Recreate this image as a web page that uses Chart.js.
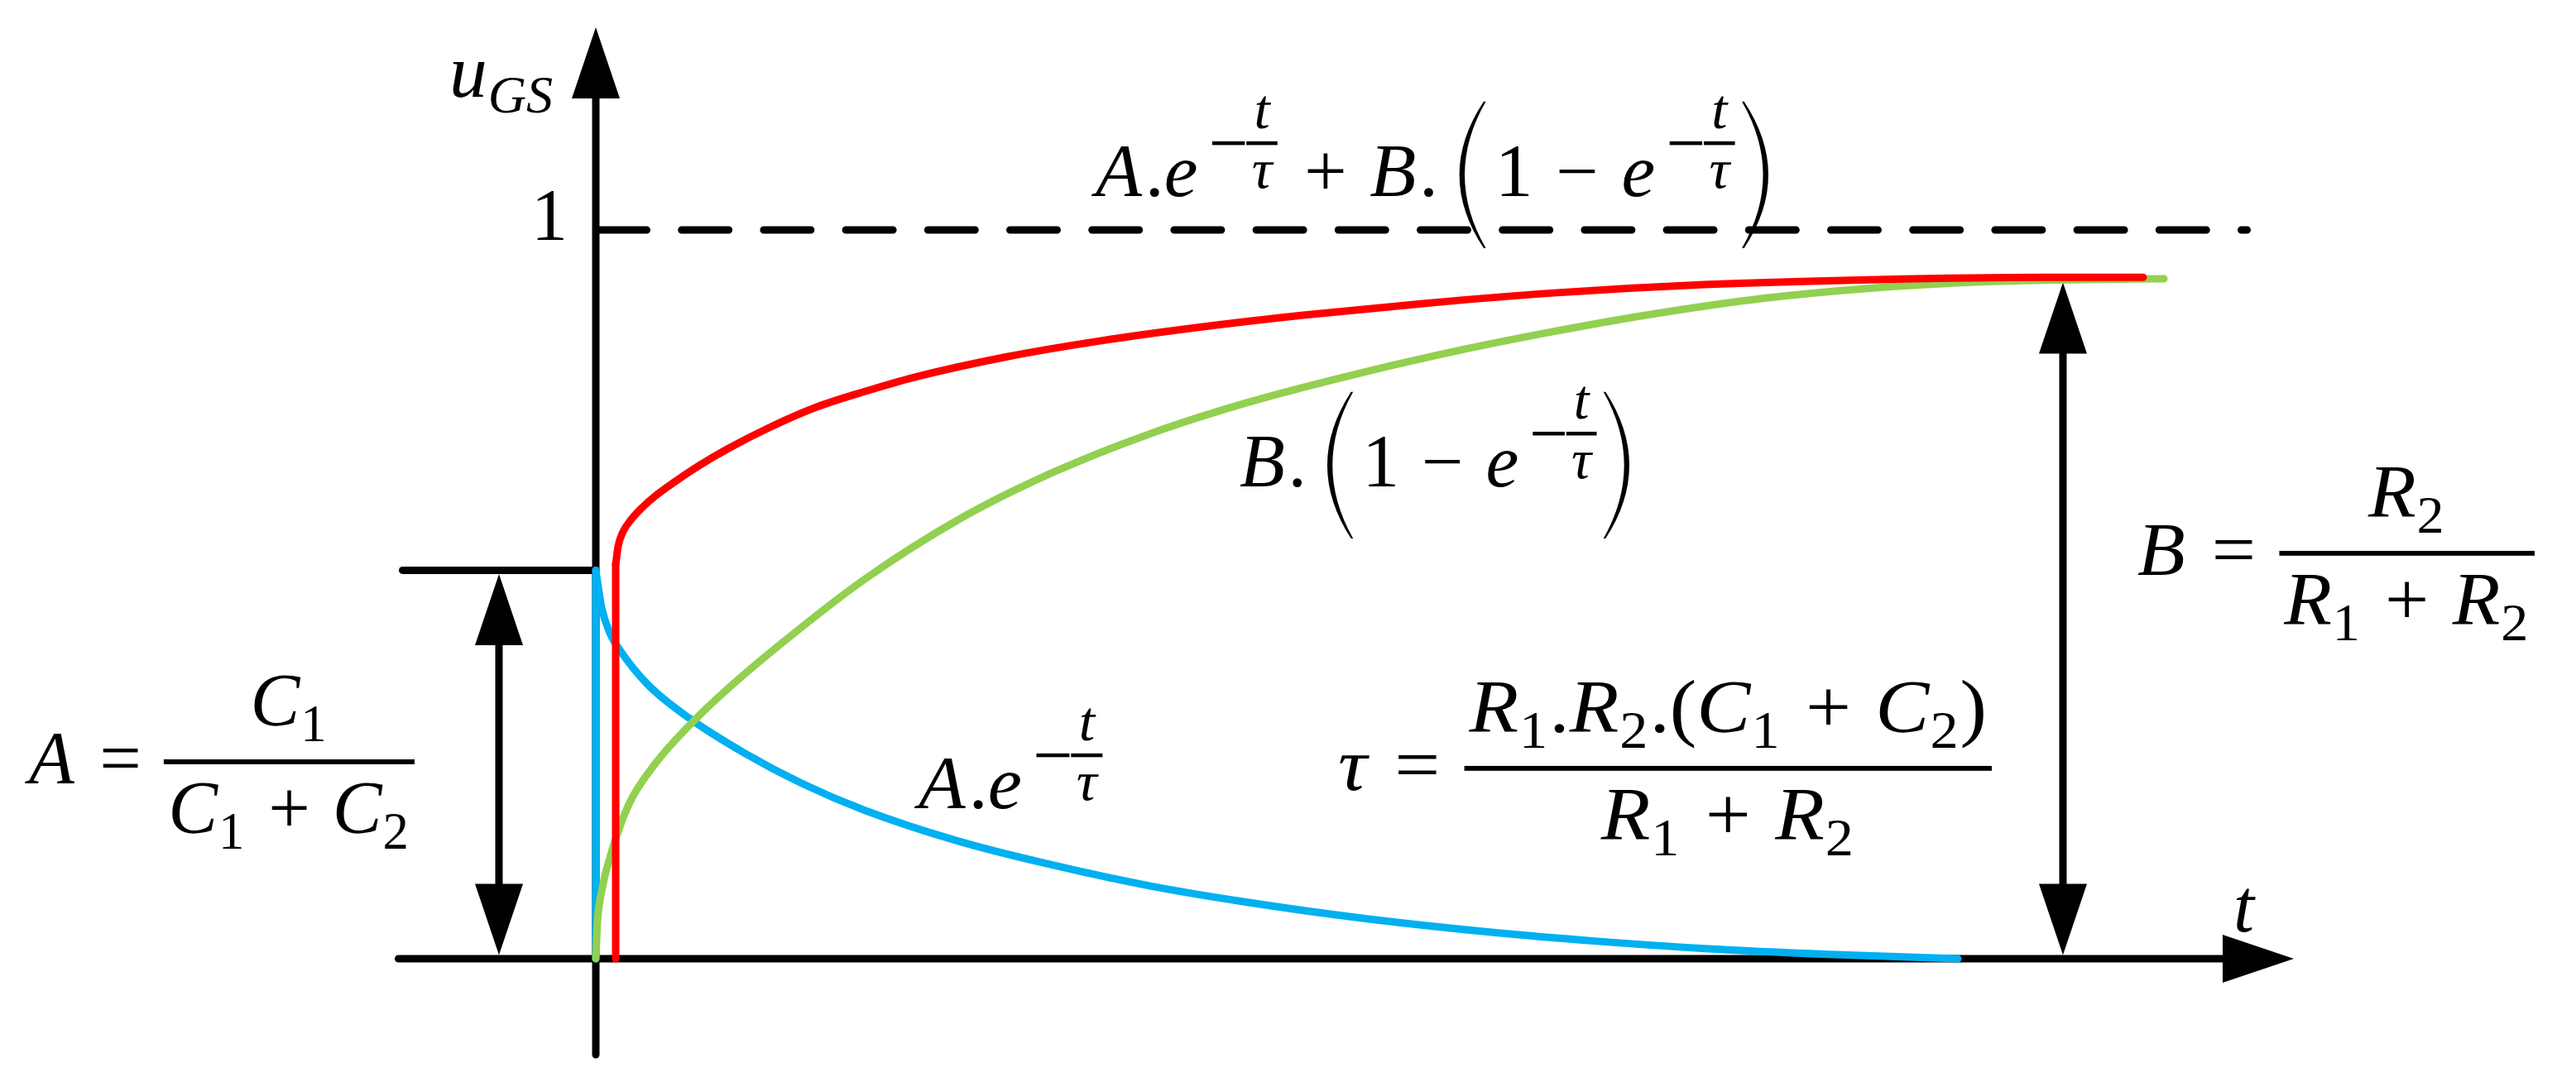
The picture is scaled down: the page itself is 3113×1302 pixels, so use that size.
<!DOCTYPE html>
<html>
<head>
<meta charset="utf-8">
<title>u_GS step response</title>
<script src="https://cdn.jsdelivr.net/npm/chart.js@4.4.1/dist/chart.umd.min.js"></script>
<style>
  html, body { margin: 0; padding: 0; background: #fff; overflow: hidden; }
  canvas { display: block; }
</style>
</head>
<body>
<canvas id="chart" width="3113" height="1302"></canvas>
<script>
// levels (u relative to the dashed "1" line)
const A_LEVEL = 0.533;   // C1 / (C1 + C2)
const B_LEVEL = 0.933;   // R2 / (R1 + R2)
const ONE = 1;

// red: A.e^(-t/τ) + B.(1 - e^(-t/τ)), drawn a little right of t = 0
const sumStepT = [0.24, 0.24];
const sumStepU = [0, 0.541];
const sumT = [0.24, 0.27, 0.33, 0.43, 0.56, 0.72, 0.95, 1.24, 1.60, 2.10, 2.67, 3.30, 3.82, 4.97, 6.11, 7.26, 8.55, 10.0, 11.5, 13.4, 15.5, 17.5, 18.70];
const sumU = [0.541, 0.566, 0.586, 0.603, 0.619, 0.635, 0.654, 0.676, 0.700, 0.729, 0.757, 0.780, 0.797, 0.826, 0.848, 0.866, 0.883, 0.899, 0.913, 0.925, 0.932, 0.935, 0.935];

// blue: A.e^(-t/τ)
const decayStepT = [0, 0];
const decayStepU = [0, A_LEVEL];
const decayT = [0, 0.07, 0.17, 0.30, 0.63, 1.13, 1.80, 2.50, 3.24, 4.39, 5.54, 6.69, 7.84, 9.30, 10.85, 12.10, 13.40, 14.90, 16.46];
const decayU = [A_LEVEL, 0.482, 0.447, 0.422, 0.376, 0.330, 0.282, 0.240, 0.204, 0.161, 0.128, 0.100, 0.078, 0.055, 0.036, 0.024, 0.014, 0.006, 0];

// green: B.(1 - e^(-t/τ))
const riseT = [0, 0.02, 0.07, 0.20, 0.40, 0.70, 1.18, 1.70, 2.40, 3.24, 4.39, 5.54, 6.69, 7.84, 9.0, 10.2, 11.5, 12.8, 14.1, 15.4, 16.8, 18.0, 18.95];
const riseU = [0, 0.050, 0.092, 0.150, 0.212, 0.265, 0.326, 0.381, 0.447, 0.520, 0.603, 0.668, 0.720, 0.762, 0.797, 0.829, 0.859, 0.885, 0.906, 0.920, 0.929, 0.932, 0.933];

const RED = '#ff0000', GREEN = '#92d050', BLUE = '#00b0f0';
const LW = 9;

const pts = (ts, us) => ts.map((t, i) => ({ x: t, y: us[i] }));
const curve = (data, color, smooth) => ({
    data,
    borderColor: color,
    borderWidth: LW,
    borderCapStyle: 'round',
    borderJoinStyle: 'round',
    pointRadius: 0,
    showLine: true,
    fill: false,
    tension: 0,
    cubicInterpolationMode: smooth ? 'monotone' : 'default'
});

// --- small math typesetter ---
const SERIF = '"Liberation Serif", "DejaVu Serif", serif';
function setFont(ctx, size, italic) {
    ctx.font = (italic ? 'italic ' : '') + size + 'px ' + SERIF;
}
function hbar(ctx, x1, x2, y, th) {
    ctx.fillRect(x1, y - th / 2, x2 - x1, th);
}
function layout(ctx, items, size, x, y, draw) {
    let w = 0;
    for (const it of items) w += piece(ctx, it, size, x + w, y, draw);
    return w;
}
function piece(ctx, it, size, x, y, draw) {
    const kind = it[0], txt = it[1];
    if (kind === 'v' || kind === 'r') {
        setFont(ctx, size, kind === 'v');
        if (draw) ctx.fillText(txt, x, y);
        return ctx.measureText(txt).width + (kind === 'v' ? size * 0.04 : 0);
    }
    if (kind === 'sub' || kind === 'subi') {
        setFont(ctx, size * 0.7, kind === 'subi');
        if (draw) ctx.fillText(txt, x - size * 0.03, y + size * 0.21);
        return ctx.measureText(txt).width - size * 0.01;
    }
    if (kind === 'op') {
        const gap = size * 0.3;
        setFont(ctx, size, false);
        if (draw) ctx.fillText(txt, x + gap, y);
        return ctx.measureText(txt).width + gap * 2;
    }
    if (kind === 'exp') {
        // exponent  -t/τ
        const s = size * 0.75, barY = y - size * 0.71, th = size * 0.05;
        const m0 = x + size * 0.15, m1 = m0 + size * 0.43;
        const f0 = m1 + size * 0.02, f1 = f0 + size * 0.41;
        if (draw) {
            hbar(ctx, m0, m1, barY, th);
            hbar(ctx, f0, f1, barY, th);
            setFont(ctx, s, true);
            ctx.textAlign = 'center';
            ctx.fillText('t', (f0 + f1) / 2, barY - s * 0.27);
            ctx.fillText('τ', (f0 + f1) / 2, barY + s * 0.8);
            ctx.textAlign = 'left';
        }
        return f1 - x + size * 0.05;
    }
    if (kind === 'lp' || kind === 'rp') {
        const left = kind === 'lp';
        const padL = left ? size * 0.28 : size * 0.07;
        const pw = size * 0.32, padR = left ? size * 0.15 : 0;
        if (draw) {
            const top = y - size * 1.27, bot = y + size * 0.70, mid = (top + bot) / 2;
            const th = size * 0.07, tip = 2.5;
            const x0 = x + padL, x1 = x0 + pw;
            ctx.beginPath();
            if (left) {
                ctx.moveTo(x1, top);
                ctx.quadraticCurveTo(2 * x0 - x1, mid, x1, bot);
                ctx.lineTo(x1 + tip, bot);
                ctx.quadraticCurveTo(2 * (x0 + th) - (x1 + tip), mid, x1 + tip, top);
            } else {
                ctx.moveTo(x0, top);
                ctx.quadraticCurveTo(2 * x1 - x0, mid, x0, bot);
                ctx.lineTo(x0 - tip, bot);
                ctx.quadraticCurveTo(2 * (x1 - th) - (x0 - tip), mid, x0 - tip, top);
            }
            ctx.closePath();
            ctx.fill();
        }
        return padL + pw + padR;
    }
    if (kind === 'frac') {
        const num = it[1], den = it[2];
        const pad = size * 0.06;
        const wn = layout(ctx, num, size, 0, 0, false);
        const wd = layout(ctx, den, size, 0, 0, false);
        const w = Math.max(wn, wd) + pad * 2;
        if (draw) {
            const barY = y - size * 0.29;
            hbar(ctx, x, x + w, barY, size * 0.065);
            layout(ctx, num, size, x + (w - wn) / 2, barY - size * 0.49, true);
            layout(ctx, den, size, x + (w - wd) / 2, barY + size * 0.96, true);
        }
        return w;
    }
    return 0;
}

// labels: items, left/right edge in t, baseline in u
const S = 90;
const labels = [
    { items: [['v', 'u'], ['subi', 'GS']], size: 92, from: -1.77, to: -0.50, base: 1.1827 },
    { items: [['r', '1']], size: 88, from: -0.78, base: 0.9875 },
    { items: [['v', 't']], size: 90, from: 19.79, base: 0.0375 },
    {
        items: [['v', 'A'], ['r', '.'], ['v', 'e'], ['exp'], ['op', '+'], ['v', 'B'], ['r', '.'], ['lp'],
                ['r', '1'], ['op', '−'], ['v', 'e'], ['exp'], ['rp']],
        size: S, from: 6.04, to: 14.17, base: 1.0465
    },
    {
        items: [['v', 'B'], ['r', '.'], ['lp'], ['r', '1'], ['op', '−'], ['v', 'e'], ['exp'], ['rp']],
        size: S, from: 7.78, to: 12.49, base: 0.648
    },
    { items: [['v', 'A'], ['r', '.'], ['v', 'e'], ['exp']], size: S, from: 3.90, to: 6.17, base: 0.2066 },
    {
        items: [['v', 'A'], ['op', '='], ['frac',
            [['v', 'C'], ['sub', '1']],
            [['v', 'C'], ['sub', '1'], ['op', '+'], ['v', 'C'], ['sub', '2']]]],
        size: S, from: -6.85, to: -2.19, base: 0.2406
    },
    {
        items: [['v', 'τ'], ['op', '='], ['frac',
            [['v', 'R'], ['sub', '1'], ['r', '.'], ['v', 'R'], ['sub', '2'], ['r', '.'], ['r', '('],
             ['v', 'C'], ['sub', '1'], ['op', '+'], ['v', 'C'], ['sub', '2'], ['r', ')']],
            [['v', 'R'], ['sub', '1'], ['op', '+'], ['v', 'R'], ['sub', '2']]]],
        size: S, from: 8.97, to: 16.87, base: 0.2316
    },
    {
        items: [['v', 'B'], ['op', '='], ['frac',
            [['v', 'R'], ['sub', '2']],
            [['v', 'R'], ['sub', '1'], ['op', '+'], ['v', 'R'], ['sub', '2']]]],
        size: S, from: 18.63, to: 23.43, base: 0.5267
    }
];

// --- axes, arrows and labels drawn through the chart scales ---
const HEAD = 86, HALF = 29;
function head(ctx, tx, ty, dx, dy) {
    const bx = tx - dx * HEAD, by = ty - dy * HEAD;
    ctx.beginPath();
    ctx.moveTo(tx, ty);
    ctx.lineTo(bx - dy * HALF, by + dx * HALF);
    ctx.lineTo(bx + dy * HALF, by - dx * HALF);
    ctx.closePath();
    ctx.fill();
}
function seg(ctx, x1, y1, x2, y2) {
    ctx.beginPath();
    ctx.moveTo(x1, y1);
    ctx.lineTo(x2, y2);
    ctx.stroke();
}

const schematic = {
    id: 'schematic',
    beforeDatasetsDraw(chart) {
        const ctx = chart.ctx;
        const X = v => chart.scales.x.getPixelForValue(v);
        const Y = v => chart.scales.y.getPixelForValue(v);
        ctx.save();
        ctx.strokeStyle = '#000';
        ctx.fillStyle = '#000';
        ctx.lineWidth = LW;
        ctx.lineCap = 'round';

        // dashed "1" level
        ctx.setLineDash([57, 42.2]);
        seg(ctx, X(0) + LW / 2, Y(ONE), X(19.955), Y(ONE));
        ctx.setLineDash([]);

        // u axis
        seg(ctx, X(0), Y(-0.1317), X(0), Y(1.278) + HEAD - 2);
        head(ctx, X(0), Y(1.278), 0, -1);
        // t axis
        seg(ctx, X(-2.385), Y(0), X(20.52) - HEAD + 2, Y(0));
        head(ctx, X(20.52), Y(0), 1, 0);
        // step level A
        seg(ctx, X(-2.335), Y(A_LEVEL), X(0), Y(A_LEVEL));

        // double arrows for A and B
        ctx.lineCap = 'butt';
        const dbl = (t, top) => {
            const x = X(t), y1 = Y(top) + LW / 2, y2 = Y(0) - LW / 2;
            seg(ctx, x, y1 + HEAD - 2, x, y2 - HEAD + 2);
            head(ctx, x, y1, 0, -1);
            head(ctx, x, y2, 0, 1);
        };
        dbl(-1.17, A_LEVEL);
        dbl(17.73, B_LEVEL);
        ctx.restore();
    },
    afterDatasetsDraw(chart) {
        const ctx = chart.ctx;
        const X = v => chart.scales.x.getPixelForValue(v);
        const Y = v => chart.scales.y.getPixelForValue(v);
        ctx.save();
        ctx.fillStyle = '#000';
        ctx.textBaseline = 'alphabetic';
        ctx.textAlign = 'left';
        labels.forEach(lb => {
            const x0 = X(lb.from), y0 = Y(lb.base);
            const w = layout(ctx, lb.items, lb.size, 0, 0, false);
            const sx = lb.to !== undefined ? (X(lb.to) - x0) / w : 1;
            ctx.save();
            ctx.translate(x0, y0);
            ctx.scale(sx, 1);
            layout(ctx, lb.items, lb.size, 0, 0, true);
            ctx.restore();
        });
        ctx.restore();
    }
};

new Chart(document.getElementById('chart'), {
    type: 'scatter',
    data: {
        datasets: [
            curve(pts(sumStepT, sumStepU), RED, false),
            curve(pts(sumT, sumU), RED, true),
            curve(pts(riseT, riseU), GREEN, true),
            curve(pts(decayStepT, decayStepU), BLUE, false),
            curve(pts(decayT, decayU), BLUE, true)
        ]
    },
    options: {
        responsive: false,
        devicePixelRatio: 1,
        animation: false,
        layout: { padding: 0 },
        plugins: { legend: { display: false }, tooltip: { enabled: false } },
        scales: {
            x: { type: 'linear', min: -7.2, max: 23.93, display: false },
            y: { type: 'linear', min: -0.1623, max: 1.3155, display: false }
        }
    },
    plugins: [schematic]
});
</script>
</body>
</html>
